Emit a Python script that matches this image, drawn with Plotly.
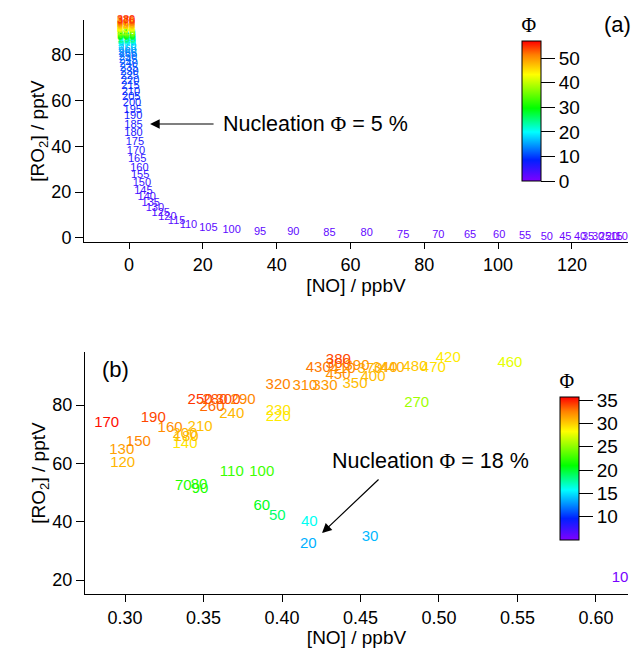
import plotly.graph_objects as go
from plotly.colors import sample_colorscale

# ---------------- panel (a) ----------------
labels_a = [10, 15, 20, 25, 30, 35, 40, 45, 50, 55, 60, 65, 70, 75, 80, 85, 90, 95,
            100, 105, 110, 115, 120, 125, 130, 135, 140, 145, 150, 155, 160, 165,
            170, 175, 180, 185, 190, 195, 200, 205, 210, 215, 220, 225, 230, 235,
            240, 245, 250, 255, 260, 265, 270, 275, 280, 285, 290, 295, 300, 305,
            310, 315, 320, 325, 330, 335, 340, 345, 350, 355, 360, 365, 370, 375,
            380, 385]
no_a = [133.5, 132.1, 130.8, 129.0, 127.1, 124.4, 122.2, 118.2, 113.2, 107.3,
        100.3, 92.4, 83.8, 74.3, 64.4, 54.3, 44.5, 35.5, 27.8, 21.5, 16.1, 12.9,
        10.4, 8.6, 7.0, 5.9, 4.8, 3.9, 3.5, 3.0, 2.8, 2.2, 1.9, 1.6, 1.2, 1.2,
        1.1, 1.0, 0.8, 0.6, 0.5, 0.4, 0.3, 0.2, 0.1, 0.0, -0.1, -0.2, -0.3, -0.3,
        -0.4, -0.4, -0.5, -0.5, -0.6, -0.6, -0.6, -0.6, -0.7, -0.7, -0.7, -0.7,
        -0.7, -0.7, -0.8, -0.8, -0.8, -0.8, -0.8, -0.8, -0.8, -0.8, -0.8, -0.8,
        -0.8, -0.8]
ro2_a = [0.3, 0.3, 0.3, 0.3, 0.4, 0.3, 0.3, 0.3, 0.3, 0.6, 0.9, 0.9, 1.3, 1.3,
         1.8, 2.0, 2.5, 2.5, 3.5, 4.2, 5.6, 7.2, 8.9, 10.9, 12.8, 15.0, 17.6, 20.5,
         24.0, 27.4, 30.6, 34.3, 37.9, 41.7, 45.8, 49.4, 53.0, 55.9, 59.0, 61.5,
         63.9, 66.4, 68.3, 70.5, 72.4, 74.2, 75.9, 77.5, 79.0, 80.3, 81.4, 82.5,
         83.5, 84.4, 85.1, 85.8, 86.4, 87.0, 87.6, 88.1, 88.6, 89.1, 89.6, 90.1,
         90.6, 91.1, 91.6, 92.1, 92.6, 93.0, 93.4, 93.8, 94.2, 94.6, 95.0, 95.4]
phi_a = [0.5, 0.6, 0.7, 0.8, 0.9, 1.0, 1.1, 1.2, 1.3, 1.4, 1.5, 1.6, 1.7, 1.8,
         1.9, 2.0, 2.1, 2.2, 2.3, 2.4, 2.5, 2.7, 2.9, 3.1, 3.3, 3.5, 3.8, 4.1,
         4.4, 4.7, 5.0, 5.3, 5.6, 6.0, 6.4, 6.8, 7.2, 7.6, 8.0, 8.4, 8.8, 9.2,
         9.6, 10.0, 10.4, 10.8, 11.3, 11.8, 12.3, 12.9, 13.6, 14.8, 16.2, 17.8,
         19.5, 21.3, 23.2, 25.2, 27.3, 29.4, 31.5, 33.6, 35.7, 37.7, 39.6, 41.4,
         43.1, 44.7, 46.3, 47.8, 49.3, 50.8, 52.2, 53.6, 55.0, 56.5]

# ---------------- panel (b) ----------------
labels_b = [10, 20, 30, 40, 50, 60, 70, 80, 90, 100, 110, 120, 130, 140, 150, 160,
            170, 180, 190, 200, 210, 220, 230, 240, 250, 260, 270, 280, 290, 300,
            310, 320, 330, 340, 350, 360, 370, 380, 390, 400, 410, 420, 430, 440,
            450, 460, 470, 480]
no_b = [0.6153, 0.4168, 0.4561, 0.4174, 0.3970, 0.3871, 0.3371, 0.3471, 0.3478,
        0.3871, 0.3680, 0.2985, 0.2979, 0.3382, 0.3085, 0.3287, 0.2883, 0.3389,
        0.3180, 0.3382, 0.3478, 0.3976, 0.3976, 0.3680, 0.3478, 0.3554, 0.4858,
        0.3573, 0.3752, 0.3656, 0.4146, 0.3975, 0.4274, 0.4656, 0.4465, 0.4359,
        0.4561, 0.4359, 0.4478, 0.4580, 0.4389, 0.5059, 0.4231, 0.4701, 0.4357,
        0.5452, 0.4964, 0.4847]
ro2_b = [20.7, 32.3, 34.8, 39.8, 41.7, 45.4, 52.3, 52.6, 51.1, 57.1, 56.9, 60.2,
         64.6, 66.6, 67.3, 72.1, 73.7, 69.0, 75.5, 70.1, 72.3, 75.9, 77.9, 76.9,
         81.7, 79.4, 80.6, 81.7, 81.7, 81.7, 86.3, 86.9, 86.3, 92.7, 87.2, 94.1,
         92.3, 95.4, 93.4, 89.6, 92.3, 96.0, 92.6, 92.7, 90.3, 94.5, 92.6, 93.1]
phi_b = [5.3, 13.6, 13.8, 16.0, 18.8, 20.5, 21.8, 22.0, 21.8, 22.8, 22.6, 30.8,
         31.5, 29.2, 32.4, 32.2, 35.4, 30.6, 34.0, 30.8, 30.5, 29.0, 29.2, 30.8,
         34.4, 33.2, 25.6, 33.6, 32.4, 33.8, 32.2, 32.6, 31.8, 31.2, 30.6, 33.4,
         30.8, 34.0, 32.0, 30.6, 32.4, 29.0, 32.8, 31.0, 32.0, 27.6, 29.4, 30.2]

PHI_RANGE_A = (0, 57)
PHI_RANGE_B = (5, 35.7)

RAINBOW = [[0.0, "#7f00ff"], [0.15, "#0020ff"], [0.35, "#00ffff"],
           [0.52, "#00ff00"], [0.76, "#ffff00"], [0.90, "#ff8000"],
           [1.0, "#ff0000"]]

SANS = "Liberation Sans, Arial, sans-serif"
SERIF = "Liberation Serif, Times New Roman, serif"
PHI = '<span style="font-family:Liberation Serif">Φ</span>'


def text_colors(values, lo, hi):
    pos = [min(1.0, max(0.0, (v - lo) / (hi - lo))) for v in values]
    return sample_colorscale(RAINBOW, pos)


fig = go.Figure()

fig.add_trace(go.Scatter(
    x=no_a, y=ro2_a, mode="markers+text", text=[str(v) for v in labels_a],
    textposition="middle center",
    textfont=dict(family=SANS, size=11, color=text_colors(phi_a, *PHI_RANGE_A)),
    marker=dict(size=1, opacity=0, color=phi_a, coloraxis="coloraxis"),
    cliponaxis=False, showlegend=False, xaxis="x", yaxis="y"))

fig.add_trace(go.Scatter(
    x=no_b, y=ro2_b, mode="markers+text", text=[str(v) for v in labels_b],
    textposition="middle center",
    textfont=dict(family=SANS, size=15, color=text_colors(phi_b, *PHI_RANGE_B)),
    marker=dict(size=1, opacity=0, color=phi_b, coloraxis="coloraxis2"),
    cliponaxis=False, showlegend=False, xaxis="x2", yaxis="y2"))

W, H = 634, 648


def px_x(p):
    return p / W


def px_y(p):
    return 1 - p / H


axis_common = dict(showline=True, linecolor="black", linewidth=1, mirror=False,
                   ticks="outside", tickwidth=1, tickcolor="black",
                   showgrid=False, zeroline=False,
                   tickfont=dict(family=SANS, size=18, color="black"))

colorbar_common = dict(
    xref="container", yref="container", xanchor="left", yanchor="top",
    xpad=0, ypad=0, lenmode="pixels", thicknessmode="pixels", thickness=19,
    outlinecolor="black", outlinewidth=1, ticks="outside", ticklen=14,
    tickcolor="black", tickfont=dict(family=SANS, size=19, color="black"),
    title=dict(text="Φ", side="top", font=dict(family=SERIF, size=20, color="black")))

fig.update_layout(
    width=W, height=H, plot_bgcolor="white", paper_bgcolor="white",
    margin=dict(l=0, r=0, t=0, b=0, autoexpand=False),
    font=dict(family=SANS, color="black"),
    xaxis=dict(domain=[px_x(84), px_x(628)], range=[-12.2, 135.2],
               tickvals=[0, 20, 40, 60, 80, 100, 120], anchor="y", ticklen=6,
               title=dict(text="[NO] / ppbV", font=dict(size=19), standoff=0),
               **axis_common),
    yaxis=dict(domain=[px_y(242), px_y(20)], range=[-1.84, 95.3],
               tickvals=[0, 20, 40, 60, 80], anchor="x", ticklen=8,
               title=dict(text="[RO<sub>2</sub>] / pptV", font=dict(size=19), standoff=1),
               **axis_common),
    xaxis2=dict(domain=[px_x(85), px_x(628)], range=[0.2745, 0.6204],
                tickvals=[0.30, 0.35, 0.40, 0.45, 0.50, 0.55, 0.60],
                tickformat=".2f", anchor="y2", ticklen=7,
                title=dict(text="[NO] / ppbV", font=dict(size=19), standoff=2),
                **axis_common),
    yaxis2=dict(domain=[px_y(594), px_y(352)], range=[15.2, 98.2],
                tickvals=[20, 40, 60, 80], anchor="x2", ticklen=8,
                title=dict(text="[RO<sub>2</sub>] / pptV", font=dict(size=19), standoff=1),
                **axis_common),
    coloraxis=dict(colorscale=RAINBOW, cmin=PHI_RANGE_A[0], cmax=PHI_RANGE_A[1],
                   colorbar=dict(x=px_x(522), y=px_y(14), len=167,
                                 tickvals=[0, 10, 20, 30, 40, 50], **colorbar_common)),
    coloraxis2=dict(colorscale=RAINBOW, cmin=PHI_RANGE_B[0], cmax=PHI_RANGE_B[1],
                    colorbar=dict(x=px_x(560), y=px_y(370), len=170,
                                  tickvals=[10, 15, 20, 25, 30, 35], **colorbar_common)),
)

# panel letters
fig.add_annotation(text="(a)", x=px_x(617), y=px_y(25), xref="paper", yref="paper",
                   xanchor="center", yanchor="middle", showarrow=False,
                   font=dict(family=SANS, size=22))
fig.add_annotation(text="(b)", x=px_x(115), y=px_y(369), xref="paper", yref="paper",
                   xanchor="center", yanchor="middle", showarrow=False,
                   font=dict(family=SANS, size=22))

# nucleation markers: arrow + caption
fig.add_annotation(x=5.7, y=49.8, xref="x", yref="y", text="", showarrow=True,
                   ax=65, ay=0, arrowhead=2, arrowsize=1.6, arrowwidth=1.2,
                   arrowcolor="black")
fig.add_annotation(text=f"Nucleation {PHI} = 5 %", x=px_x(221), y=px_y(124),
                   xref="paper", yref="paper", xanchor="left", yanchor="middle",
                   showarrow=False, font=dict(family=SANS, size=21.5))
fig.add_annotation(x=0.4255, y=36.1, xref="x2", yref="y2", text="", showarrow=True,
                   ax=58, ay=-55, arrowhead=2, arrowsize=1.6, arrowwidth=1.2,
                   arrowcolor="black")
fig.add_annotation(text=f"Nucleation {PHI} = 18 %", x=px_x(330), y=px_y(461),
                   xref="paper", yref="paper", xanchor="left", yanchor="middle",
                   showarrow=False, font=dict(family=SANS, size=21.5))

fig.write_html("out.html")
